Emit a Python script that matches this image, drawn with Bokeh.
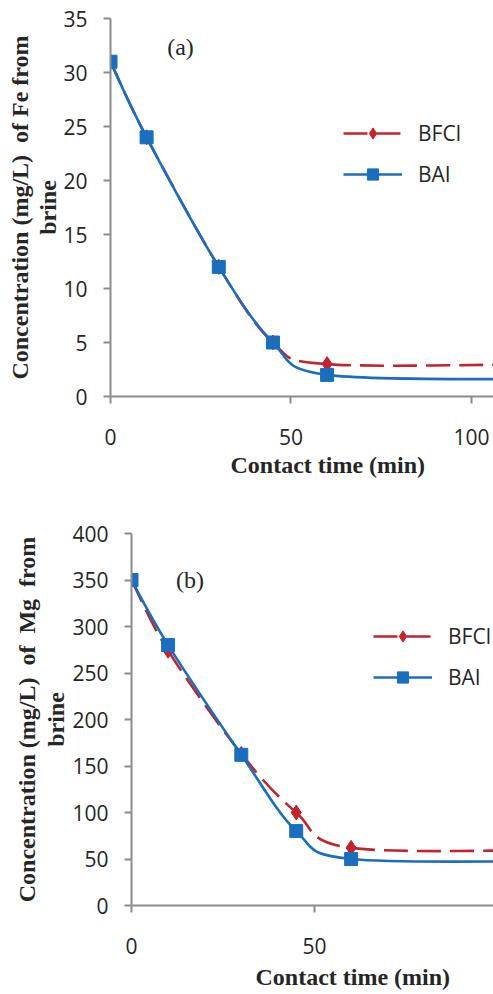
import numpy as np
from bokeh.plotting import figure
from bokeh.layouts import column
from bokeh.models import (ColumnDataSource, FixedTicker, Label, Legend, LegendItem,
                          Range1d, Title)
from bokeh.embed import file_html
from bokeh.resources import INLINE

# ---------------- data ----------------
time_min = [0, 10, 30, 45, 60, 120]
fe_bfcl = [31, 24, 12, 5, 3.0, 3.0]
fe_bai = [31, 24, 12, 5, 2.0, 1.6]
mg_bfcl = [350, 274, 163, 100, 62, 60]
mg_bai = [350, 280, 162, 80, 50, 48]
series_names = ["BFCl", "BAI"]
x_ticks = [0, 50, 100]
fe_ticks = [0, 5, 10, 15, 20, 25, 30, 35]
mg_ticks = [0, 50, 100, 150, 200, 250, 300, 350, 400]

RED = "#C3232B"
BLUE = "#1B6EBE"
AXIS = "#8C8C8C"
TXT = "#262626"
TICK_FONT = "Open Sans"
SERIF = "Liberation Serif"


def smooth_segments(xs, ys):
    """Bezier control points of a Catmull-Rom style smoothed line (rendering only)."""
    xs = np.asarray(xs, float)
    ys = np.asarray(ys, float)
    n = len(xs)
    d = dict(x0=[], y0=[], x1=[], y1=[], cx0=[], cy0=[], cx1=[], cy1=[])
    for i in range(n - 1):
        im1 = max(i - 1, 0)
        ip2 = min(i + 2, n - 1)
        d["x0"].append(xs[i]); d["y0"].append(ys[i])
        d["x1"].append(xs[i + 1]); d["y1"].append(ys[i + 1])
        d["cx0"].append(xs[i] + (xs[i + 1] - xs[im1]) / 6)
        d["cy0"].append(ys[i] + (ys[i + 1] - ys[im1]) / 6)
        d["cx1"].append(xs[i + 1] - (xs[ip2] - xs[i]) / 6)
        d["cy1"].append(ys[i + 1] - (ys[ip2] - ys[i]) / 6)
    return ColumnDataSource(d)


def title(text, align, offset, standoff, size="24px"):
    return Title(text=text, align=align, offset=offset, standoff=standoff,
                 text_font=SERIF, text_font_style="bold", text_font_size=size,
                 text_color=TXT)


def make_panel(height, left, top, bottom, x_end, y_end, yticks, red_vals, blue_vals,
               tag, tag_xy, ytitle1, ystand, xtitle_off, xstand, legend_xy):
    p = figure(width=493, height=height, output_backend="svg", toolbar_location=None,
               x_range=Range1d(0, x_end), y_range=Range1d(0, y_end),
               min_border_left=left, min_border_right=0, min_border_top=top,
               min_border_bottom=bottom, frame_align=False)
    p.outline_line_color = None
    p.grid.visible = False
    p.background_fill_color = "white"
    p.border_fill_color = "white"
    for ax, ticks in ((p.xaxis[0], x_ticks), (p.yaxis[0], yticks)):
        ax.ticker = FixedTicker(ticks=ticks)
        ax.axis_line_color = AXIS
        ax.axis_line_width = 2
        ax.major_tick_line_color = AXIS
        ax.major_tick_line_width = 2
        ax.major_tick_out = 7
        ax.major_tick_in = 0
        ax.minor_tick_line_color = None
        ax.major_label_text_font = TICK_FONT
        ax.major_label_text_font_size = "21px"
        ax.major_label_text_color = TXT
    p.xaxis.major_label_standoff = 25
    p.yaxis.major_label_standoff = 16

    src_r = ColumnDataSource(dict(x=time_min, y=red_vals))
    src_b = ColumnDataSource(dict(x=time_min, y=blue_vals))
    r_line = p.bezier(x0="x0", y0="y0", x1="x1", y1="y1", cx0="cx0", cy0="cy0",
                      cx1="cx1", cy1="cy1", source=smooth_segments(time_min, red_vals),
                      line_color=RED, line_width=2.6, line_dash="24 9")
    r_mark = p.scatter("x", "y", source=src_r, marker="diamond",
                       size=15, fill_color=RED, line_color=RED)
    b_line = p.bezier(x0="x0", y0="y0", x1="x1", y1="y1", cx0="cx0", cy0="cy0",
                      cx1="cx1", cy1="cy1", source=smooth_segments(time_min, blue_vals),
                      line_color=BLUE, line_width=2.6)
    b_mark = p.scatter("x", "y", source=src_b, marker="square", size=13,
                       fill_color=BLUE, line_color=BLUE)

    legend = Legend(items=[LegendItem(label=series_names[0], renderers=[r_line, r_mark]),
                           LegendItem(label=series_names[1], renderers=[b_line, b_mark])],
                    location=legend_xy, orientation="vertical",
                    glyph_width=59, glyph_height=28, label_height=28, spacing=13,
                    label_standoff=16, padding=0, margin=0,
                    border_line_color=None, background_fill_alpha=0,
                    label_text_font=TICK_FONT, label_text_font_size="21px",
                    label_text_color=TXT)
    p.add_layout(legend, "center")

    p.add_layout(Label(x=tag_xy[0], y=tag_xy[1], text=tag, text_font=SERIF,
                       text_font_size="24px", text_color=TXT,
                       text_align="center", text_baseline="middle"))
    p.add_layout(title("Contact time (min)", "left", xtitle_off, xstand), "below")
    p.add_layout(title("brine", "center", 0, ystand[0]), "left")
    p.add_layout(title(ytitle1, "center", 0, ystand[1]), "left")
    return p


pa = make_panel(height=490, left=110, top=18, bottom=94, x_end=106.1, y_end=35,
                yticks=fe_ticks, red_vals=fe_bfcl, blue_vals=fe_bai,
                tag="(a)", tag_xy=(19.4, 32.4),
                ytitle1="Concentration (mg/L)\u00a0\u00a0of Fe from",
                ystand=(0, 0), xtitle_off=120, xstand=5, legend_xy=(233, 208))
pb = make_panel(height=504, left=131, top=43, bottom=89, x_end=98.9, y_end=400,
                yticks=mg_ticks, red_vals=mg_bfcl, blue_vals=mg_bai,
                tag="(b)", tag_xy=(16.0, 349.5),
                ytitle1="Concentration (mg/L)\u00a0\u00a0of\u00a0\u00a0Mg\u00a0\u00a0from",
                ystand=(2, 0), xtitle_off=124, xstand=10, legend_xy=(242, 214))

layout = column(pa, pb, spacing=0)
open("out.html", "w").write(file_html(layout, INLINE))
